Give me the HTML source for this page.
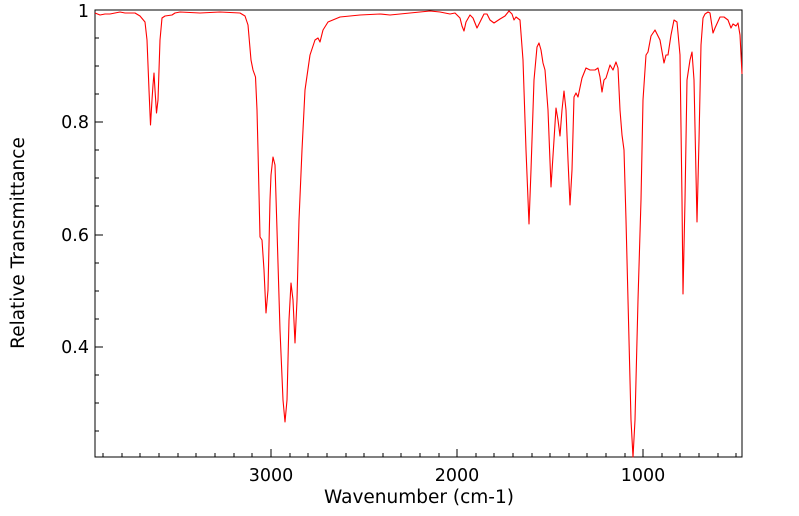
<!DOCTYPE html>
<html><head><style>
body{margin:0;background:#fff;}
svg{display:block;font-family:"DejaVu Sans","Liberation Sans",sans-serif;}
</style></head><body>
<svg width="799" height="516" viewBox="0 0 799 516">
<rect x="95" y="10" width="647" height="447" fill="none" stroke="#000" stroke-width="1"/>
<g stroke="#000" stroke-width="1">
<line x1="271" y1="457" x2="271" y2="449"/><line x1="457" y1="457" x2="457" y2="449"/><line x1="643" y1="457" x2="643" y2="449"/>
<line x1="103" y1="457" x2="103" y2="453"/><line x1="122" y1="457" x2="122" y2="453"/><line x1="140" y1="457" x2="140" y2="453"/><line x1="159" y1="457" x2="159" y2="453"/><line x1="178" y1="457" x2="178" y2="453"/><line x1="196" y1="457" x2="196" y2="453"/><line x1="215" y1="457" x2="215" y2="453"/><line x1="234" y1="457" x2="234" y2="453"/><line x1="252" y1="457" x2="252" y2="453"/><line x1="290" y1="457" x2="290" y2="453"/><line x1="308" y1="457" x2="308" y2="453"/><line x1="327" y1="457" x2="327" y2="453"/><line x1="346" y1="457" x2="346" y2="453"/><line x1="364" y1="457" x2="364" y2="453"/><line x1="383" y1="457" x2="383" y2="453"/><line x1="401" y1="457" x2="401" y2="453"/><line x1="420" y1="457" x2="420" y2="453"/><line x1="439" y1="457" x2="439" y2="453"/><line x1="476" y1="457" x2="476" y2="453"/><line x1="494" y1="457" x2="494" y2="453"/><line x1="513" y1="457" x2="513" y2="453"/><line x1="532" y1="457" x2="532" y2="453"/><line x1="550" y1="457" x2="550" y2="453"/><line x1="569" y1="457" x2="569" y2="453"/><line x1="587" y1="457" x2="587" y2="453"/><line x1="606" y1="457" x2="606" y2="453"/><line x1="625" y1="457" x2="625" y2="453"/><line x1="662" y1="457" x2="662" y2="453"/><line x1="680" y1="457" x2="680" y2="453"/><line x1="699" y1="457" x2="699" y2="453"/><line x1="718" y1="457" x2="718" y2="453"/><line x1="736" y1="457" x2="736" y2="453"/>
<line x1="95" y1="122" x2="103" y2="122"/><line x1="95" y1="235" x2="103" y2="235"/><line x1="95" y1="347" x2="103" y2="347"/>
<line x1="95" y1="38" x2="99" y2="38"/><line x1="95" y1="66" x2="99" y2="66"/><line x1="95" y1="94" x2="99" y2="94"/><line x1="95" y1="150" x2="99" y2="150"/><line x1="95" y1="178" x2="99" y2="178"/><line x1="95" y1="206" x2="99" y2="206"/><line x1="95" y1="263" x2="99" y2="263"/><line x1="95" y1="291" x2="99" y2="291"/><line x1="95" y1="319" x2="99" y2="319"/><line x1="95" y1="375" x2="99" y2="375"/><line x1="95" y1="403" x2="99" y2="403"/><line x1="95" y1="431" x2="99" y2="431"/>
</g>
<g font-size="17.5" fill="#000">
<text x="89" y="17" text-anchor="end">1</text>
<text x="89" y="128" text-anchor="end">0.8</text>
<text x="89" y="241" text-anchor="end">0.6</text>
<text x="89" y="353" text-anchor="end">0.4</text>
<text x="271" y="481" text-anchor="middle">3000</text>
<text x="457" y="481" text-anchor="middle">2000</text>
<text x="643" y="481" text-anchor="middle">1000</text>
</g>
<g font-size="18.5" fill="#000">
<text x="419" y="503" text-anchor="middle">Wavenumber (cm-1)</text>
<text transform="translate(24,243) rotate(-90)" text-anchor="middle">Relative Transmittance</text>
</g>
<polyline fill="none" stroke="#ff0000" stroke-width="1.1" stroke-linejoin="round" points="95,13 100,15 105,14 110,14 115,13 120,12 125,13 130,13 135,13 140,16 145,22 147,40 149,90 150.5,125 152,100 153,85 154,73 155,90 156.5,113 158,100 160,40 162,18 165,16 172,15 175,13 180,12 200,13 220,12 240,13 245,16 248,25 251,60 253,70 255.5,77 257,110 258,150 260,237 262,240 264,270 266,313 268,290 270,200 271,175 273,157 275,165 277,230 280,330 283,400 285,422 287,400 289,320 291,283 293,300 295,343 297,300 299,220 302,150 305,90 310,55 315,40 318,38 320,42 323,30 328,22 340,17 360,15 380,14 390,15 400,14 420,12 430,11 440,12 450,14 455,13 460,18 462,26 464,31 466,22 470,15 473,18 477,28 480,22 484,14 487,14 490,20 494,23 500,19 505,16 509,11 512,14 514,20 516,17 520,20 523,60 526,150 529,224 531,170 534,80 537,47 539,43 541,50 543,63 545,70 548,110 551,187 554,140 556,108 558,120 560,136 562,110 564,91 566,110 568,160 570,205 572,170 574,97 576,93 578,97 582,78 586,68 590,70 595,70 598,68 600,77 602,92 604,80 606,78 610,65 613,70 616,62 618,68 620,110 622,135 624,150 626,220 628,300 631,420 633,457 635,420 638,300 641,200 643,100 646,55 648,52 651,36 655,30 660,40 664,63 666,55 668,55 671,35 674,20 677,22 680,55 682,200 683,294 685,200 687,80 690,60 692,52 694,80 697,222 699,140 701,45 703,18 705,14 708,12 710,13 713,33 715,28 720,17 724,17 728,20 731,28 733,24 736,26 738,23 740,35 742,74"/>
</svg>
</body></html>
